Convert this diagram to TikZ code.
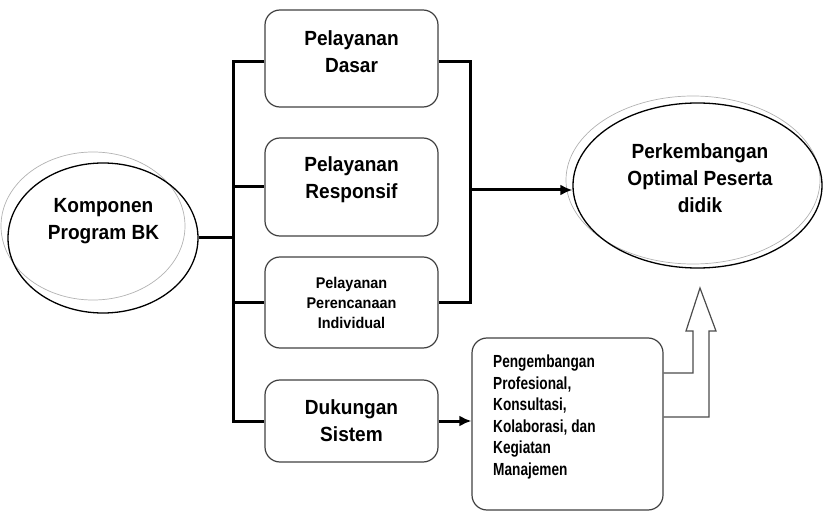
\documentclass[tikz,border=0pt]{standalone}
\usepackage{fontspec}
\setmainfont{Liberation Sans}[FakeStretch=0.93]
\newfontfamily\narrowface{Liberation Sans}[FakeStretch=0.78]
\usetikzlibrary{arrows.meta,shapes.geometric}

\begin{document}
\begin{tikzpicture}[x=1pt,y=-1pt,
  box/.style={draw=black!75,line width=1.2pt,rounded corners=15pt,inner sep=0pt},
  oval/.style={draw=black,line width=1.3pt,ellipse,inner sep=0pt},
  ghost/.style={draw=black!30,line width=0.7pt},
  conn/.style={line width=3pt,line join=miter},
  tip/.style={-{Latex[length=12pt,width=11pt]}},
  big/.style={align=center,inner sep=0pt,font=\bfseries\fontsize{20.5}{27}\selectfont},
  small/.style={align=center,inner sep=0pt,font=\bfseries\fontsize{15.5}{20}\selectfont},
  list/.style={align=left,inner sep=0pt,font=\narrowface\bfseries\fontsize{17.5}{21.5}\selectfont}]

\useasboundingbox (0,0) rectangle (823,516);

% ellipses with their faint offset outlines
\draw[ghost] (93,226) ellipse [x radius=92pt, y radius=74pt];
\node[oval,minimum width=190pt,minimum height=150pt] (komponen) at (103,238) {};
\node[big] (komponenText) at (103.5,221.5) {Komponen\\Program BK};

\draw[ghost] (693,180) ellipse [x radius=127pt, y radius=84pt];
\node[oval,minimum width=249pt,minimum height=165pt] (tujuan) at (697.5,185.5) {};
\node[big] (tujuanText) at (700,178.5) {Perkembangan\\Optimal Peserta\\didik};

% service boxes
\node[box,minimum width=173pt,minimum height=97pt] (dasar) at (351.5,58.5) {};
\node[big] (dasarText) at ([yshift=7pt]dasar.center) {Pelayanan\\Dasar};

\node[box,minimum width=173pt,minimum height=98pt] (resp) at (351.5,187) {};
\node[big] (respText) at ([yshift=7pt]resp.center) {Pelayanan\\Responsif};

\node[box,minimum width=173pt,minimum height=91pt] (indiv) at (351.5,302.5) {};
\node[small] (indivText) at (indiv.center) {Pelayanan\\Perencanaan\\Individual};

\node[box,minimum width=173pt,minimum height=82pt] (dukung) at (351.5,421) {};
\node[big] (dukungText) at (dukung.center) {Dukungan\\Sistem};

\node[box,minimum width=191pt,minimum height=172pt] (keg) at (567.5,424) {};
\node[list,anchor=north west] (kegText) at (493,355) {Pengembangan\\Profesional,\\Konsultasi,\\Kolaborasi, dan\\Kegiatan\\Manajemen};

% bus lines
\coordinate (busL) at (233,0);
\coordinate (busR) at (470,0);
\coordinate (hub) at (470,190);

\draw[conn] (komponen.east) -- (komponen.east -| busL);
\draw[conn] ([yshift=-3.5pt]dasar.west) -| (busL |- dukung.west) -- (dukung.west);
\draw[conn] (busL |- resp.west) -- (resp.west);
\draw[conn] (busL |- indiv.west) -- (indiv.west);
\draw[conn] ([yshift=-3.5pt]dasar.east) -| (busR |- indiv.east) -- (indiv.east);
\draw[conn,tip] (hub) -- (hub -| tujuan.west);
\draw[conn,tip] (dukung.east) -- (dukung.east -| keg.west);

% hollow block arrow rising to the goal
\draw[draw=black!70,line width=1.2pt,line join=miter]
  (keg.east |- 0,373) -- (693,373) -- (693,331) -- (686,331) -- (700,288)
  -- (716,331) -- (709,331) -- (709,417) -- (keg.east |- 0,417);

\end{tikzpicture}
\end{document}
